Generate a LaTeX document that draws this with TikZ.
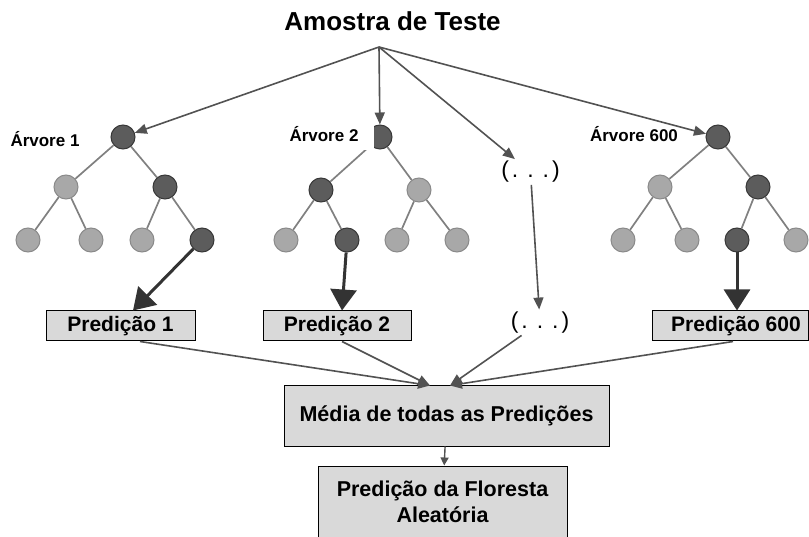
\documentclass[tikz,border=0pt]{standalone}
\usepackage{fontspec}
\setmainfont{Liberation Sans}
\usetikzlibrary{arrows.meta}

\begin{document}
\begin{tikzpicture}[x=1pt,y=-1pt,
  dk/.style={circle, draw=black!78, fill=black!64, line width=1pt, minimum size=24pt, inner sep=0pt},
  lt/.style={circle, draw=black!46, fill=black!34, line width=1pt, minimum size=24pt, inner sep=0pt},
  edge/.style={draw=black!50, line width=1.7pt},
  feed/.style={draw=black!68, line width=1.6pt, -{Triangle[length=12pt,width=10pt]}},
  pick/.style={draw=black!80, line width=3pt, -{Triangle[length=21pt,width=26pt]}},
  pbox/.style={draw=black, fill=black!15, line width=1pt, inner sep=0pt,
    font=\bfseries\fontsize{21}{25}\selectfont, minimum height=30pt},
  cbox/.style={draw=black, fill=black!15, line width=1pt, inner sep=0pt, align=center,
    font=\bfseries\fontsize{21.5}{26}\selectfont},
  lbl/.style={font=\bfseries\fontsize{17}{20}\selectfont, inner sep=0pt, anchor=base},
  dots/.style={font=\fontsize{23}{26}\selectfont, inner sep=2pt},
]
\useasboundingbox (0,0) rectangle (809,537);

% title and the point the sample arrows leave from
\node[font=\bfseries\fontsize{26}{30}\selectfont, inner sep=0pt, anchor=base] (title) at (392.5,31) {Amostra de Teste};
\coordinate (src) at (379,47);

% tree 1
\node[dk] (a0) at (123,137) {};
\node[lt] (a1) at (66,187) {};
\node[dk] (a2) at (165,187) {};
\node[lt] (a3) at (28,240) {};
\node[lt] (a4) at (91,240) {};
\node[lt] (a5) at (142,240) {};
\node[dk] (a6) at (202,240) {};
\draw[edge] (a0) -- (a1);
\draw[edge] (a0) -- (a2);
\draw[edge] (a1) -- (a3);
\draw[edge] (a1) -- (a4);
\draw[edge] (a2) -- (a5);
\draw[edge] (a2) -- (a6);
\node[lbl] (la) at (45,147) {Árvore 1};

% tree 2
\node[dk] (b0) at (380,137) {};
\node[dk] (b1) at (321,190) {};
\node[lt] (b2) at (419,190) {};
\node[lt] (b3) at (286,240) {};
\node[dk] (b4) at (347,240) {};
\node[lt] (b5) at (397,240) {};
\node[lt] (b6) at (457,240) {};
\draw[edge] (b0) -- (b1);
\draw[edge] (b0) -- (b2);
\draw[edge] (b1) -- (b3);
\draw[edge] (b1) -- (b4);
\draw[edge] (b2) -- (b5);
\draw[edge] (b2) -- (b6);
% the label of tree 2 sits on a white patch over its root
\fill[white] (284,126) rectangle (374,150);
\node[lbl] (lb) at (324,142) {Árvore 2};

% tree 600
\node[dk] (c0) at (718,137) {};
\node[lt] (c1) at (660,187) {};
\node[dk] (c2) at (758,187) {};
\node[lt] (c3) at (623,240) {};
\node[lt] (c4) at (687,240) {};
\node[dk] (c5) at (737,240) {};
\node[lt] (c6) at (796,240) {};
\draw[edge] (c0) -- (c1);
\draw[edge] (c0) -- (c2);
\draw[edge] (c1) -- (c3);
\draw[edge] (c1) -- (c4);
\draw[edge] (c2) -- (c5);
\draw[edge] (c2) -- (c6);
\node[lbl] (lc) at (634,142) {Árvore 600};

% elided trees
\node[dots] (d1) at (530.5,172) {(\hspace{3pt}.\hspace{9pt}.\hspace{9pt}.\hspace{3pt})};
\node[dots] (d2) at (540,322.5) {(\hspace{3pt}.\hspace{9pt}.\hspace{9pt}.\hspace{3pt})};

% prediction boxes
\node[pbox, minimum width=149pt] (p1) at (120.5,326) {Predição 1};
\node[pbox, minimum width=148pt] (p2) at (337,326) {Predição 2};
\node[pbox, minimum width=156pt] (p600) at (730,326) {\hspace*{12pt}Predição 600};

% average and final result
\node[cbox, minimum width=325pt, minimum height=60pt] (m) at (446.5,416) {Média de todas as Predições};
\node[cbox, minimum width=249pt, minimum height=72pt] (f) at (442.5,502) {Predição da Floresta\\Aleatória};

% sample sent to every tree
\draw[feed] (src) -- (a0);
\draw[feed] (src) -- (b0);
\draw[feed] (src) -- (d1);
\draw[feed] (src) -- (c0);
\draw[feed] (d1) -- (d2);

% leaf reached in each tree
\draw[pick] (a6) -- ([xshift=12.5pt]p1.north);
\draw[pick] (b4) -- ([xshift=5pt]p2.north);
\draw[pick] (c5) -- ([xshift=7pt]p600.north);

% predictions gathered into the average
\draw[feed] ([xshift=19.5pt]p1.south) -- ([xshift=-16.5pt]m.north);
\draw[feed] ([xshift=5pt]p2.south) -- ([xshift=-16.5pt]m.north);
\draw[feed] (d2) -- ([xshift=3.5pt]m.north);
\draw[feed] ([xshift=3pt]p600.south) -- ([xshift=3.5pt]m.north);
\draw[draw=black!68, line width=1.4pt, -{Triangle[length=8pt,width=8pt]}] (m) -- (f);
\end{tikzpicture}
\end{document}
